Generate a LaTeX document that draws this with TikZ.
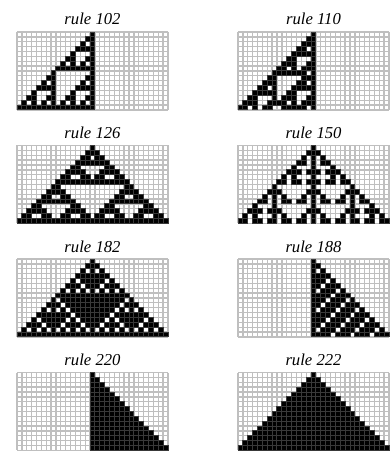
\documentclass[tikz,border=0pt]{standalone}
\usepackage{fontspec}
\setmainfont{Liberation Serif}

% cell size in px
\def\cellsz{4.87}
\newcount\cak
\newcount\cav

% evolve one elementary rule: 16 rows, 31 cells, one black cell in the middle
\newcommand{\runrule}[1]{%
  \foreach \j in {-1,...,31}{\expandafter\xdef\csname ca-0-\j\endcsname{0}}%
  \expandafter\xdef\csname ca-0-15\endcsname{1}%
  \foreach \i in {1,...,15}{%
    \edef\prev{\the\numexpr\i-1\relax}%
    \expandafter\xdef\csname ca-\i--1\endcsname{0}%
    \expandafter\xdef\csname ca-\i-31\endcsname{0}%
    \foreach \j in {0,...,30}{%
      \cak=\numexpr 4*\csname ca-\prev-\the\numexpr\j-1\relax\endcsname
              +2*\csname ca-\prev-\j\endcsname
              +\csname ca-\prev-\the\numexpr\j+1\relax\endcsname\relax
      \cav=#1\relax
      \divide\cav by \ifcase\cak 1\or 2\or 4\or 8\or 16\or 32\or 64\or 128\fi\relax
      \ifodd\cav \expandafter\xdef\csname ca-\i-\j\endcsname{1}%
      \else \expandafter\xdef\csname ca-\i-\j\endcsname{0}\fi
    }%
  }%
}

% one panel: #1 rule, (#2,#3) top left corner of the grid
\newcommand{\drawrule}[3]{%
  \runrule{#1}%
  \node[rulelabel] (lbl#1) at (#2+75.5,#3-7) {rule #1};
  % grid lines
  \foreach \j in {0,...,31}
    \draw[gridline] (#2+\j*\cellsz,#3) -- (#2+\j*\cellsz,#3+16*\cellsz);
  \foreach \i in {0,...,16}
    \draw[gridline] (#2,#3+\i*\cellsz) -- (#2+31*\cellsz,#3+\i*\cellsz);
  % black cells
  \foreach \i in {0,...,15}{
    \foreach \j in {0,...,30}{
      \ifnum\csname ca-\i-\j\endcsname=1
        \filldraw[livecell] (#2+\j*\cellsz,#3+\i*\cellsz) rectangle ++(\cellsz,\cellsz);
      \fi
    }
  }
}

\begin{document}
\begin{tikzpicture}[x=0.75pt, y=-0.75pt,
    gridline/.style={gray!50, line width=1.0},
    livecell/.style={fill=black, draw=gray!45!black, line width=0.7},
    rulelabel/.style={font=\fontsize{12.5}{14}\selectfont\itshape, anchor=base, inner sep=0pt}]
  \useasboundingbox (0,0) rectangle (390,452);

  % eight rules, two columns
  \foreach \r/\x/\y in {102/17/32, 110/238/32, 126/17/145.5, 150/238/145.5,
                        182/17/259, 188/238/259, 220/17/372.5, 222/238/372.5} {
    \drawrule{\r}{\x}{\y}
  }
\end{tikzpicture}
\end{document}
